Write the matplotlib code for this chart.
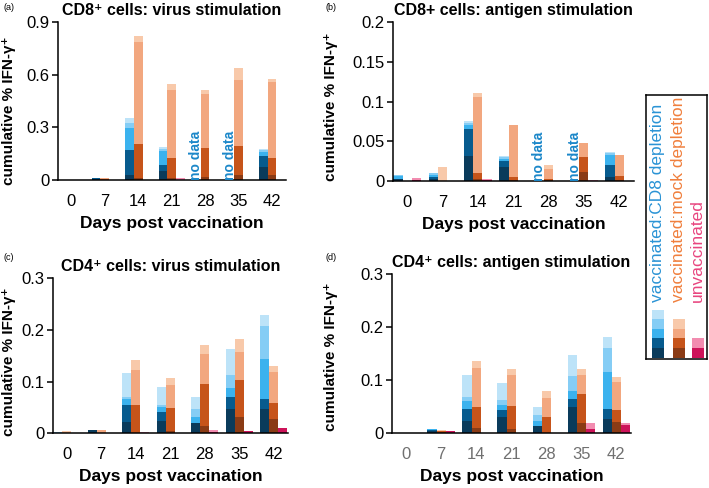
import numpy as np
import matplotlib
matplotlib.use("Agg")
import matplotlib.pyplot as plt
from matplotlib.patches import Rectangle

plt.rcParams['font.family'] = ['Liberation Sans', 'DejaVu Sans']

days = ['0', '7', '14', '21', '28', '35', '42']
nan = np.nan

# cumulative % IFN-g+ ; each list is the cumulative top of one shade (darkest first)
# (a) CD8+ virus stimulation
a_depl = [[0.001, 0.005, 0.030, 0.051, nan, nan, 0.076],
          [0.001, 0.012, 0.174, 0.087, nan, nan, 0.140],
          [0.001, 0.013, 0.297, 0.164, nan, nan, 0.159],
          [0.001, 0.013, 0.323, 0.178, nan, nan, 0.170],
          [0.001, 0.013, 0.355, 0.189, nan, nan, 0.180]]
a_mock = [[0.001, 0.002, 0.011, 0.011, 0.020, 0.030, 0.030],
          [0.002, 0.010, 0.208, 0.128, 0.183, 0.195, 0.125],
          [0.003, 0.014, 0.786, 0.512, 0.491, 0.571, 0.556],
          [0.003, 0.015, 0.820, 0.546, 0.512, 0.639, 0.573]]
a_unvac = [[0, 0, 0, 0.004, 0, 0, 0],
           [0, 0, 0, 0.011, 0, 0, 0]]

# (b) CD8+ antigen stimulation
b_depl = [[0.002, 0.003, 0.031, 0.0175, nan, nan, 0.0055],
          [0.003, 0.0055, 0.066, 0.025, nan, nan, 0.020],
          [0.006, 0.008, 0.070, 0.028, nan, nan, 0.033],
          [0.007, 0.0095, 0.073, 0.030, nan, nan, 0.035],
          [0.008, 0.0095, 0.076, 0.031, nan, nan, 0.036]]
b_mock = [[0, 0, 0.003, 0.001, 0.001, 0.011, 0.001],
          [0, 0, 0.010, 0.0045, 0.002, 0.030, 0.006],
          [0, 0, 0.106, 0.071, 0.0145, 0.048, 0.033],
          [0, 0.017, 0.111, 0.071, 0.020, 0.048, 0.033]]
b_unvac = [[0.001, 0, 0.001, 0, 0, 0, 0],
           [0.004, 0, 0.003, 0, 0, 0.001, 0]]

# (c) CD4+ virus stimulation
c_depl = [[0, 0.007, 0.0226, 0.023, 0.019, 0.046, 0.047],
          [0, 0.007, 0.0555, 0.041, 0.020, 0.071, 0.066],
          [0, 0.007, 0.066, 0.050, 0.032, 0.088, 0.143],
          [0.003, 0.007, 0.071, 0.055, 0.046, 0.113, 0.208],
          [0.003, 0.007, 0.116, 0.090, 0.070, 0.163, 0.229]]
c_mock = [[0, 0, 0.001, 0.005, 0.015, 0.032, 0.027],
          [0, 0.001, 0.0555, 0.048, 0.095, 0.103, 0.059],
          [0.002, 0.006, 0.123, 0.093, 0.153, 0.158, 0.118],
          [0.004, 0.006, 0.142, 0.106, 0.170, 0.182, 0.130]]
c_unvac = [[0, 0, 0.001, 0, 0.003, 0.005, 0.0103],
           [0, 0, 0.002, 0, 0.0065, 0.005, 0.0103]]

# (d) CD4+ antigen stimulation
d_depl = [[0, 0.005, 0.023, 0.030, 0.014, 0.050, 0.026],
          [0, 0.006, 0.045, 0.043, 0.014, 0.065, 0.045],
          [0, 0.0075, 0.061, 0.053, 0.024, 0.080, 0.115],
          [0, 0.0075, 0.069, 0.062, 0.035, 0.107, 0.161],
          [0, 0.0075, 0.109, 0.095, 0.050, 0.148, 0.182]]
d_mock = [[0, 0.002, 0.010, 0.008, 0.0, 0.020, 0.021],
          [0, 0.004, 0.050, 0.052, 0.031, 0.074, 0.043],
          [0, 0.005, 0.123, 0.109, 0.067, 0.109, 0.097],
          [0, 0.006, 0.136, 0.122, 0.080, 0.122, 0.106]]
d_unvac = [[0, 0.004, 0, 0, 0, 0.0075, 0.016],
           [0, 0.005, 0, 0, 0, 0.020, 0.019]]

blues = ['#0a3b5b', '#075b8e', '#3bb2ee', '#85cdf5', '#bde3f8']
oranges = ['#8a3b15', '#c6541a', '#f2a77f', '#f8c9aa']
pinks = ['#cd1359', '#f28cb0']

legend_names = ['vaccinated:CD8 depletion', 'vaccinated:mock depletion', 'unvaccinated']
legend_text_colors = ['#2a93d5', '#f07f3c', '#e8457f']

panels = [
    ('(a)', 'CD8\u207a cells: virus stimulation', a_depl, a_mock, a_unvac,
     [0, 0.3, 0.6, 0.9], ['0', '0.3', '0.6', '0.9'], [58, 286, 21.7, 180.3], (-0.184, 0.44)),
    ('(b)', 'CD8+ cells: antigen stimulation', b_depl, b_mock, b_unvac,
     [0, 0.05, 0.1, 0.15, 0.2], ['0', '0.05', '0.1', '0.15', '0.2'], [393, 634, 22, 181], (-0.228, 0.47)),
    ('(c)', 'CD4\u207a cells: virus stimulation', c_depl, c_mock, c_unvac,
     [0, 0.1, 0.2, 0.3], ['0', '0.1', '0.2', '0.3'], [53, 288, 278, 433.3], (-0.157, 0.46)),
    ('(d)', 'CD4\u207a cells: antigen stimulation', d_depl, d_mock, d_unvac,
     [0, 0.1, 0.2, 0.3], ['0', '0.1', '0.2', '0.3'], [392, 631, 274, 433.3], (-0.226, 0.48)),
]

W, H = 709, 488
fig = plt.figure(figsize=(W / 100, H / 100), dpi=100)

x = np.arange(len(days))
bw = 0.26

for letter, title, depl, mock, unvac, yt, ytl, box, ylc in panels:
    l, r, t, b = box
    ax = fig.add_axes([l / W, 1 - b / H, (r - l) / W, (b - t) / H])
    for layers, cols, off in [(depl, blues, -bw), (mock, oranges, 0), (unvac, pinks, bw)]:
        for vals, col in reversed(list(zip(layers, cols))):
            v = np.nan_to_num(np.array(vals, dtype=float))
            ax.bar(x + off, v, bw, color=col, linewidth=0)
        missing = np.isnan(np.array(layers[0], dtype=float))
        for i in np.where(missing)[0]:
            ax.text(x[i] + off, 0, 'no data', rotation=90, ha='center', va='bottom',
                    color='#1b87c9', fontsize=10, fontweight='bold')
    ax.set_xlim(-0.4, 6.42)
    ax.set_ylim(0, yt[-1])
    ax.set_yticks(yt)
    ax.set_yticklabels(ytl)
    ax.set_xticks(x)
    ax.set_xticklabels(days)
    ax.tick_params(axis='x', length=0, labelsize=12, pad=10,
                   labelcolor='#707070' if letter == '(d)' else 'black')
    ax.tick_params(axis='y', length=4, width=1.1, labelsize=12, pad=2)
    for s in ['top', 'right']:
        ax.spines[s].set_visible(False)
    for s in ['left', 'bottom']:
        ax.spines[s].set_linewidth(1.1)
    ax.set_xlabel('Days post vaccination', fontsize=12.5, fontweight='bold', labelpad=5)
    ax.set_ylabel('cumulative % IFN-\u03b3\u207a', fontsize=11, fontweight='bold')
    ax.yaxis.set_label_coords(*ylc)
    ax.set_title(title, fontsize=11.5, fontweight='bold', pad=5)
    fig.text((3 if letter in ('(a)', '(c)') else 325) / W,
             1 - (8 if letter in ('(a)', '(b)') else 258) / H,
             letter, fontsize=6.5, va='center', ha='left')

# legend box
lx0, lx1, ly0, ly1 = 646, 707, 95, 359
lax = fig.add_axes([lx0 / W, 1 - ly1 / H, (lx1 - lx0) / W, (ly1 - ly0) / H])
lax.set_xlim(lx0, lx1)
lax.set_ylim(ly1, ly0)
lax.set_xticks([])
lax.set_yticks([])
for s in lax.spines.values():
    s.set_linewidth(1.1)
sw_x = [652, 673, 692]
for name, tc, cols, sx in zip(legend_names, legend_text_colors, [blues, oranges, pinks], sw_x):
    for k, col in enumerate(cols):
        lax.add_patch(Rectangle((sx, 357.5 - (k + 1) * 9.6), 11.5, 9.6, color=col, lw=0))
    lax.text(sx + 5.75, 302, name, rotation=90, ha='center', va='bottom',
             color=tc, fontsize=12.5)

fig.savefig('out.png', dpi=100)
